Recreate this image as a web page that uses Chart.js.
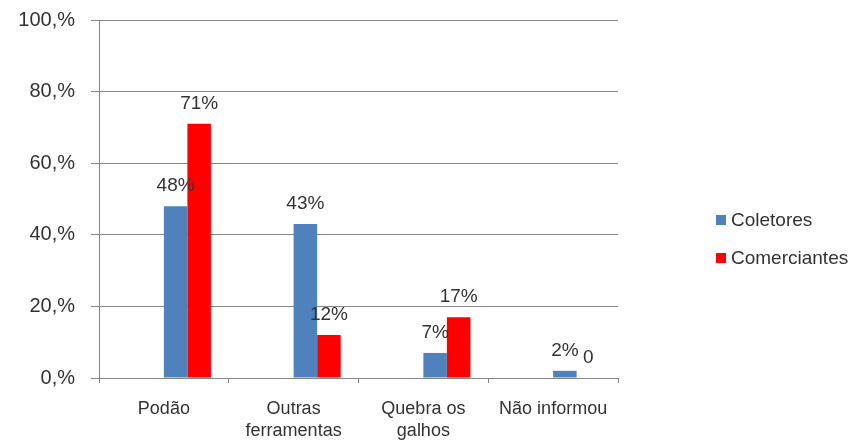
<!DOCTYPE html>
<html>
<head>
<meta charset="utf-8">
<script src="https://cdn.jsdelivr.net/npm/chart.js@4"></script>
<style>
  html, body { margin: 0; padding: 0; background: #fff; }
  #wrap { width: 856px; height: 443px; }
</style>
</head>
<body>
<div id="wrap"><canvas id="grafico" width="856" height="443"></canvas></div>
<script>
const categorias = [["Podão"], ["Outras", "ferramentas"], ["Quebra os", "galhos"], ["Não informou"]];
const coletores = [48, 43, 7, 2];
const comerciantes = [71, 12, 17, 0];
const marcasY = [0, 20, 40, 60, 80, 100];

const corTexto = "#333333";
const fonte = "'Liberation Sans', Arial, sans-serif";

// rótulos de valor em cima das barras + legenda desenhada à mão
const rotulos = {
  id: "rotulos",
  afterDatasetsDraw(chart) {
    const ctx = chart.ctx;
    ctx.save();
    ctx.font = "19px " + fonte;
    ctx.fillStyle = corTexto;
    ctx.textAlign = "center";
    ctx.textBaseline = "alphabetic";
    chart.data.datasets.forEach((ds, i) => {
      if (!ds.mostrar) return;
      const meta = chart.getDatasetMeta(i);
      meta.data.forEach((bar, j) => {
        const v = ds.data[j];
        if (v === null) return;
        const txt = v === 0 ? "0" : v + "%";
        ctx.fillText(txt, bar.x, bar.y - 15);
      });
    });
    // legenda
    ctx.textAlign = "left";
    ctx.textBaseline = "middle";
    ctx.font = "19px " + fonte;
    let y = 220;
    chart.data.datasets.forEach((ds) => {
      if (!ds.mostrar) return;
      ctx.fillStyle = ds.backgroundColor;
      ctx.fillRect(716, y - 5, 10, 10);
      ctx.fillStyle = corTexto;
      ctx.fillText(ds.label, 731, y + 1);
      y += 38;
    });
    ctx.restore();
  },
};

const config = {
  type: "bar",
  data: {
    labels: categorias,
    datasets: [
      { label: "", data: [null, null, null, null], backgroundColor: "rgba(0,0,0,0)" },
      { label: "", data: [null, null, null, null], backgroundColor: "rgba(0,0,0,0)" },
      { label: "Coletores", data: coletores, backgroundColor: "#4F81BD", mostrar: true },
      { label: "Comerciantes", data: comerciantes, backgroundColor: "#FF0000", mostrar: true },
    ],
  },
  options: {
    responsive: false,
    animation: false,
    layout: { padding: { top: 20, right: 238, left: 0, bottom: 0 } },
    datasets: {
      bar: { categoryPercentage: 0.725, barPercentage: 1.0, borderWidth: 0 },
    },
    plugins: {
      legend: { display: false },
      tooltip: { enabled: false },
    },
    scales: {
      y: {
        min: 0,
        max: 100,
        afterFit(s) {
          s.width = 99;
          s.paddingTop = 0;
          s.paddingBottom = 0;
        },
        afterBuildTicks(s) { s.ticks = marcasY.map((v) => ({ value: v })); },
        ticks: {
          stepSize: 20,
          padding: 16,
          color: corTexto,
          font: { size: 20, family: fonte },
          callback: (v) => v + ",%",
        },
        grid: { color: "#868686", lineWidth: 1, tickLength: 8, tickColor: "#868686" },
        border: { color: "#868686", width: 1 },
      },
      x: {
        afterFit(s) {
          s.height = 65;
          s.paddingLeft = 0;
          s.paddingRight = 0;
        },
        ticks: {
          padding: 15,
          color: corTexto,
          maxRotation: 0,
          autoSkip: false,
          font: { size: 18, family: fonte, lineHeight: 1.22 },
        },
        grid: { display: true, drawOnChartArea: false, offset: true, tickLength: 5, color: "#868686" },
        border: { color: "#868686", width: 1 },
      },
    },
  },
  plugins: [rotulos],
};

const meuGrafico = new Chart(document.getElementById("grafico"), config);
</script>
</body>
</html>
